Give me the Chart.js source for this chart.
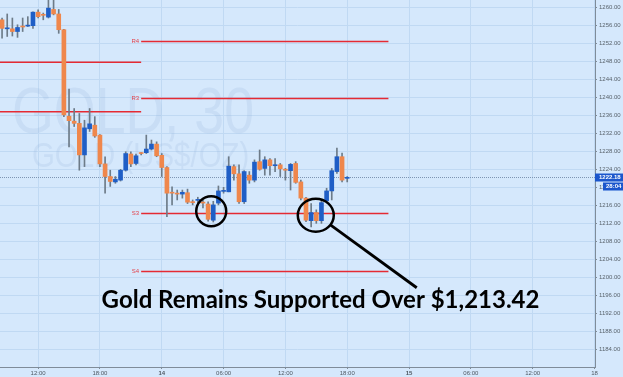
<!DOCTYPE html>
<html lang="en">
<head>
<meta charset="UTF-8">
<title>Gold 30 min</title>
<script src="https://cdn.jsdelivr.net/npm/chart.js"></script>
<style>
  html, body { margin: 0; padding: 0; background: #d5e8fc; }
</style>
</head>
<body>
<canvas id="goldChart" width="623" height="377"></canvas>
<script>
// --- data (30 min candles, hours counted from 00:00 on the 13th) ---
const firstCandleHour = 8.5;
const candleStep = 0.5;
const opens  = [1257.2,1255.2,1255.2,1254.6,1255.7,1255.8,1255.9,1258.9,1258.3,1257.8,1259.5,1258.5,1255.0,1235.8,1234.7,1234.2,1227.2,1233.0,1233.8,1231.6,
                1225.2,1222.4,1221.2,1221.6,1223.8,1227.4,1225.3,1227.6,1227.7,1228.5,1229.6,1227.1,1224.4,1218.8,1218.6,1218.5,1218.8,1216.7,1217.1,1216.6,
                1216.3,1212.7,1216.5,1219.1,1219.0,1224.6,1223.0,1216.8,1222.7,1221.6,1225.7,1224.2,1226.1,1224.8,1225.0,1224.0,1223.7,1225.3,1221.2,1217.6,
                1212.6,1214.4,1212.6,1217.0,1219.2,1223.5,1226.8,1222.0];
const highs  = [1257.6,1258.5,1257.6,1256.1,1257.6,1257.9,1259.0,1259.4,1258.7,1262.5,1262.5,1259.5,1255.1,1241.8,1237.5,1236.4,1234.9,1237.5,1235.7,1231.7,
                1226.8,1223.8,1222.4,1224.0,1227.9,1227.9,1227.4,1227.7,1231.6,1230.5,1230.1,1227.5,1224.6,1220.1,1219.4,1219.4,1219.6,1217.2,1217.8,1217.2,
                1216.8,1216.9,1220.3,1220.0,1226.8,1225.0,1225.0,1223.7,1223.5,1226.1,1228.3,1226.8,1226.4,1226.4,1225.3,1224.2,1225.3,1225.7,1221.6,1217.8,
                1216.4,1215.0,1217.2,1219.8,1224.2,1228.7,1227.6,1222.4];
const lows   = [1253.1,1253.5,1253.6,1253.3,1254.6,1255.7,1255.3,1257.6,1257.2,1257.6,1258.3,1254.2,1235.7,1229.0,1233.5,1223.8,1224.6,1232.4,1231.1,1224.6,
                1218.7,1220.2,1220.9,1221.4,1223.6,1224.6,1225.0,1227.2,1227.5,1228.3,1226.8,1222.4,1213.5,1216.1,1217.2,1217.6,1216.4,1216.1,1216.5,1215.4,
                1212.5,1212.3,1216.1,1218.7,1219.0,1221.6,1216.4,1216.4,1220.9,1221.2,1223.8,1222.7,1222.7,1223.5,1222.4,1221.6,1219.4,1220.9,1217.2,1212.4,
                1211.2,1212.0,1212.0,1216.8,1217.2,1223.1,1221.2,1221.2];
const closes = [1255.3,1255.3,1254.6,1255.5,1255.6,1255.9,1258.9,1257.9,1258.2,1259.8,1258.5,1255.0,1236.1,1234.8,1234.2,1227.2,1233.2,1234.1,1231.4,1225.2,
                1222.4,1221.3,1221.8,1223.8,1227.5,1225.2,1227.0,1227.5,1228.5,1229.6,1227.0,1224.4,1218.7,1218.7,1218.5,1218.9,1216.7,1216.6,1217.2,1216.5,
                1212.9,1216.1,1219.2,1219.3,1224.7,1223.0,1216.8,1223.5,1221.6,1225.6,1224.0,1226.1,1224.8,1224.9,1224.1,1223.8,1225.1,1221.1,1217.6,1212.7,
                1214.4,1212.6,1216.6,1219.2,1223.7,1226.8,1221.6,1222.2];
const lastPrice = 1222.18;
const countdown = '28:04';

// pivot levels: new set from 22:00 on the 13th to 22:00 on the 14th
const pivotNames  = ['R4', 'R3', 'S3', 'S4'];
const pivotValues = [1252.4, 1239.7, 1214.2, 1201.3];
const prevPivotValues = [1247.8, 1236.8];
const pivotStart = 22, pivotEnd = 46, prevPivotStart = 8.3;

const xTicks  = [12, 18, 24, 30, 36, 42, 48, 54, 60, 66];
const xLabels = ['12:00', '18:00', '14', '06:00', '12:00', '18:00', '15', '06:00', '12:00', '18'];
const yTicks  = [1184, 1188, 1192, 1196, 1200, 1204, 1208, 1212, 1216, 1220, 1224, 1228,
                 1232, 1236, 1240, 1244, 1248, 1252, 1256, 1260];
const headline = 'Gold Remains Supported Over $1,213.42';

// --- look ---
const X_MIN = 8.3, X_MAX = 66.05, Y_MIN = 1180.1, Y_MAX = 1261.6;
const BG = '#d5e8fc';
const GRID = '#c0d9f3';
const AXIS = '#7f8c99';
const UP = '#1f5ec6', DOWN = '#ef874c', WICK = '#6d7b88';
const PIVOT_RED = '#e52a33';

const times = opens.map((_, i) => firstCandleHour + i * candleStep);

const datasets = [
    {
        type: 'bar',
        data: times.map((t, i) => ({ x: t, y: [opens[i], closes[i]] })),
        backgroundColor: opens.map((o, i) => closes[i] >= o ? UP : DOWN),
        barThickness: 4,
        minBarLength: 1,
        grouped: false,
        order: 0
    },
    {
        type: 'bar',
        data: times.map((t, i) => ({ x: t, y: [lows[i], highs[i]] })),
        backgroundColor: WICK,
        barThickness: 1,
        grouped: false,
        order: 1
    },
    {
        type: 'line',
        data: [{ x: X_MIN, y: lastPrice }, { x: X_MAX, y: lastPrice }],
        borderColor: '#7d95b3',
        borderWidth: 1,
        borderDash: [1, 1],
        pointRadius: 0,
        order: 3
    }
];
pivotValues.forEach(v => datasets.push({
    type: 'line',
    data: [{ x: pivotStart, y: v }, { x: pivotEnd, y: v }],
    borderColor: PIVOT_RED, borderWidth: 1.5, pointRadius: 0, order: 2
}));
prevPivotValues.forEach(v => datasets.push({
    type: 'line',
    data: [{ x: prevPivotStart, y: v }, { x: pivotStart, y: v }],
    borderColor: PIVOT_RED, borderWidth: 1.5, pointRadius: 0, order: 2
}));

// annotation marks, placed in data units (radii in px)
const circles = [
    { x: 28.8, y: 1214.7, rx: 15, ry: 15 },
    { x: 38.95, y: 1213.8, rx: 18, ry: 16.5 }
];
const leaderEnd = { x: 48.75, y: 1197.7 };
const headlineAt = { x: 39.41, y: 1193.2 };

const overlay = {
    id: 'overlay',
    beforeDraw(chart) {
        const ctx = chart.ctx;
        ctx.save();
        ctx.fillStyle = BG;
        ctx.fillRect(0, 0, chart.width, chart.height);
        ctx.restore();
    },
    beforeDatasetsDraw(chart) {
        const { ctx, chartArea } = chart;
        ctx.save();
        ctx.fillStyle = 'rgba(150,180,222,0.2)';
        ctx.textBaseline = 'alphabetic';
        ctx.translate(chartArea.left + 12, 133);
        ctx.scale(0.84, 1);
        ctx.font = '64px "Liberation Sans"';
        ctx.fillText('GOLD, 30', 0, 0);
        ctx.restore();
        ctx.save();
        ctx.fillStyle = 'rgba(150,180,222,0.2)';
        ctx.translate(chartArea.left + 32, 167);
        ctx.scale(0.84, 1);
        ctx.font = '35px "Liberation Sans"';
        ctx.fillText('GOLD (US$/OZ)', 0, 0);
        ctx.restore();
    },
    afterDatasetsDraw(chart) {
        const { ctx } = chart;
        const xs = chart.scales.x, ys = chart.scales.y;
        ctx.save();
        // pivot labels
        ctx.font = '6px "Liberation Sans"';
        ctx.fillStyle = '#e4434c';
        ctx.textAlign = 'right';
        ctx.textBaseline = 'middle';
        pivotNames.forEach((n, i) => {
            ctx.fillText(n, xs.getPixelForValue(pivotStart) - 2, ys.getPixelForValue(pivotValues[i]));
        });
        // circles
        ctx.strokeStyle = '#000';
        ctx.lineWidth = 2.5;
        circles.forEach(c => {
            ctx.beginPath();
            ctx.ellipse(xs.getPixelForValue(c.x), ys.getPixelForValue(c.y), c.rx, c.ry, 0, 0, Math.PI * 2);
            ctx.stroke();
        });
        // leader line from the second circle
        const c = circles[1];
        const cx = xs.getPixelForValue(c.x), cy = ys.getPixelForValue(c.y);
        const ex = xs.getPixelForValue(leaderEnd.x), ey = ys.getPixelForValue(leaderEnd.y);
        const a = Math.atan2(ey - cy, ex - cx);
        ctx.lineWidth = 2.8;
        ctx.beginPath();
        ctx.moveTo(cx + c.rx * Math.cos(a), cy + c.ry * Math.sin(a));
        ctx.lineTo(ex, ey);
        ctx.stroke();
        // headline
        ctx.font = 'bold 24px Lato';
        ctx.fillStyle = '#000';
        ctx.textAlign = 'center';
        ctx.textBaseline = 'alphabetic';
        ctx.fillText(headline, xs.getPixelForValue(headlineAt.x), ys.getPixelForValue(headlineAt.y));
        ctx.restore();
    },
    afterDraw(chart) {
        const { ctx, chartArea } = chart;
        const ys = chart.scales.y;
        const y = ys.getPixelForValue(lastPrice);
        ctx.save();
        ctx.fillStyle = '#1b56cc';
        ctx.fillRect(chartArea.right, y - 4, chart.width - chartArea.right, 8);
        ctx.fillRect(chartArea.right + 8, y + 5, chart.width - chartArea.right - 8, 8);
        ctx.fillStyle = '#fff';
        ctx.font = 'bold 6px "Liberation Sans"';
        ctx.textBaseline = 'middle';
        ctx.textAlign = 'left';
        ctx.fillText(lastPrice.toFixed(2), chartArea.right + 4, y);
        ctx.fillText(countdown, chartArea.right + 11, y + 9);
        ctx.restore();
    }
};

new Chart(document.getElementById('goldChart'), {
    type: 'bar',
    data: { datasets: datasets },
    options: {
        responsive: false,
        animation: false,
        layout: { padding: 0 },
        plugins: { legend: { display: false }, tooltip: { enabled: false } },
        scales: {
            x: {
                type: 'linear',
                min: X_MIN, max: X_MAX,
                offset: false,
                afterBuildTicks: s => { s.ticks = xTicks.map(v => ({ value: v })); },
                afterFit: s => { s.height = 10; s.paddingLeft = 0; s.paddingRight = 0; },
                ticks: {
                    autoSkip: false, maxRotation: 0, padding: 1,
                    color: '#4f5861',
                    font: ctx => ({ family: '"Liberation Sans"', size: 6,
                                    weight: (ctx.tick && (ctx.tick.value === 24 || ctx.tick.value === 48)) ? 'bold' : 'normal' }),
                    callback: v => xLabels[xTicks.indexOf(v)]
                },
                grid: { color: GRID, offset: false, tickLength: 2, tickColor: AXIS },
                border: { color: AXIS, width: 1 }
            },
            y: {
                type: 'linear',
                position: 'right',
                min: Y_MIN, max: Y_MAX,
                afterBuildTicks: s => { s.ticks = yTicks.map(v => ({ value: v })); },
                afterFit: s => { s.width = 28; s.paddingTop = 0; s.paddingBottom = 0; },
                ticks: {
                    padding: 2,
                    color: '#59636c',
                    font: { family: '"Liberation Sans"', size: 6 },
                    callback: v => v.toFixed(2)
                },
                grid: { color: GRID, tickLength: 2, tickColor: AXIS },
                border: { color: AXIS, width: 1 }
            }
        }
    },
    plugins: [overlay]
});
</script>
</body>
</html>
